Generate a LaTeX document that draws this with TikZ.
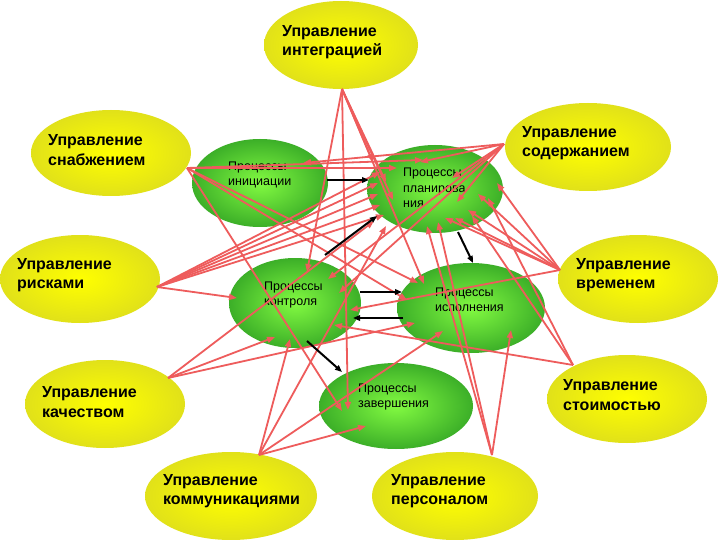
\documentclass[tikz,border=0pt]{standalone}
\usepackage{fontspec}
\setmainfont{Liberation Sans}
\usetikzlibrary{shapes.geometric,arrows.meta,calc}
\definecolor{redline}{RGB}{238,92,92}
\definecolor{yin}{RGB}{255,255,0}
\definecolor{yout}{RGB}{225,225,25}
\definecolor{gin}{RGB}{130,250,65}
\definecolor{gout}{RGB}{60,175,40}
\begin{document}
\begin{tikzpicture}[x=1pt,y=-1pt,
  yel/.style={ellipse, inner sep=0pt, draw=none, inner color=yin, outer color=yout},
  grn/.style={ellipse, inner sep=0pt, draw=none, inner color=gin, outer color=gout},
  ylab/.style={anchor=west, align=left, inner sep=0pt, font=\bfseries\fontsize{16}{19.5}\selectfont},
  glab/.style={anchor=west, align=left, inner sep=0pt, font=\fontsize{12.5}{15.5}\selectfont},
  rl/.style={draw=redline, line width=1.8pt, -{Triangle[length=8pt,width=6pt]}},
  bl/.style={draw=black, line width=2pt, -{Triangle[length=7pt,width=5.5pt]}}]
\useasboundingbox (0,0) rectangle (720,540);
\fill[white] (0,0) rectangle (720,540);

% yellow knowledge areas
\node[yel, minimum width=154pt, minimum height=88pt] (integ) at (341,45) {};
\node[yel, minimum width=160pt, minimum height=86pt] (snab) at (111,153) {};
\node[yel, minimum width=166pt, minimum height=88pt] (sod) at (588,147) {};
\node[yel, minimum width=160pt, minimum height=88pt] (risk) at (80,279) {};
\node[yel, minimum width=160pt, minimum height=88pt] (time) at (638,279) {};
\node[yel, minimum width=160pt, minimum height=88pt] (qual) at (105,404) {};
\node[yel, minimum width=160pt, minimum height=88pt] (cost) at (627,399) {};
\node[yel, minimum width=172pt, minimum height=88pt] (comm) at (231,496) {};
\node[yel, minimum width=166pt, minimum height=88pt] (pers) at (455,496) {};

% green process groups
\node[grn, minimum width=136pt, minimum height=88pt] (init) at (260,183) {};
\node[grn, minimum width=136pt, minimum height=88pt] (plan) at (435,189) {};
\node[grn, minimum width=132pt, minimum height=90pt] (ctrl) at (295,303) {};
\node[grn, minimum width=148pt, minimum height=90pt] (exec) at (471,308) {};
\node[grn, minimum width=154pt, minimum height=86pt] (comp) at (396,406) {};

% labels
\node[ylab] (tinteg) at (282,42) {Управление\\интеграцией};
\node[ylab] (tsnab) at (48,150) {Управление\\снабжением};
\node[ylab] (tsod) at (522,143) {Управление\\содержанием};
\node[ylab] (trisk) at (17,275) {Управление\\рисками};
\node[ylab] (ttime) at (576,275) {Управление\\временем};
\node[ylab] (tqual) at (42,402) {Управление\\качеством};
\node[ylab] (tcost) at (563,395) {Управление\\стоимостью};
\node[ylab] (tcomm) at (163,491) {Управление\\коммуникациями};
\node[ylab] (tpers) at (391,491) {Управление\\персоналом};

\node[glab] (tinit) at (228,175) {Процессы\\инициации};
\node[glab] (tplan) at (403,188) {Процессы\\планирова\\ния};
\node[glab] (tctrl) at (264,295) {Процессы\\контроля};
\node[glab] (texec) at (435,300) {Процессы\\исполнения};
\node[glab] (tcomp) at (358,397) {Процессы\\завершения};

% fan origins on the yellow ellipses
\coordinate (sI) at (342,89);
\coordinate (sS) at (187,168);
\coordinate (sC) at (504,144);
\coordinate (sR) at (157,287);
\coordinate (sT) at (560,270);
\coordinate (sK) at (573,365);
\coordinate (sP) at (492,455);
\coordinate (sQ) at (168,378);
\coordinate (sM) at (259,455);

% red connectors
\foreach \n/\dx/\dy in {ctrl/12/-31, comp/-48/4, plan/-49/-7, plan/-42/11, plan/-62/-27, exec/-47/-24}
  \draw[rl] (sI) -- ($(\n)+(\dx,\dy)$);
\foreach \n/\dx/\dy in {plan/-12/-29, plan/-38/-21, exec/-53/-25, exec/-64/-8, comp/-54/5}
  \draw[rl] (sS) -- ($(\n)+(\dx,\dy)$);
\foreach \n/\dx/\dy in {plan/-15/-27, plan/17/-11, plan/22/13, init/43/-20, ctrl/33/-24, ctrl/44/-10}
  \draw[rl] (sC) -- ($(\n)+(\dx,\dy)$);
\foreach \n/\dx/\dy in {plan/-55/-17, plan/-57/-6, plan/-57/5, plan/-55/16, plan/-51/26, ctrl/-58/-5}
  \draw[rl] (sR) -- ($(\n)+(\dx,\dy)$);
\foreach \n/\dx/\dy in {plan/62/-6, plan/43/5, plan/33/21, plan/20/29, plan/10/29, ctrl/55/7}
  \draw[rl] (sT) -- ($(\n)+(\dx,\dy)$);
\foreach \n/\dx/\dy in {plan/53/9, plan/37/27, ctrl/39/22}
  \draw[rl] (sK) -- ($(\n)+(\dx,\dy)$);
\foreach \n/\dx/\dy in {plan/-8/37, plan/3/33, exec/40/22}
  \draw[rl] (sP) -- ($(\n)+(\dx,\dy)$);
\foreach \n/\dx/\dy in {ctrl/-20/34, exec/-56/15, plan/-61/32}
  \draw[rl] (sQ) -- ($(\n)+(\dx,\dy)$);
\foreach \n/\dx/\dy in {ctrl/-5/36, comp/-30/20, exec/-28/23, plan/-49/37}
  \draw[rl] (sM) -- ($(\n)+(\dx,\dy)$);

% black connectors between process groups
\draw[bl] ($(init)+(67,-3)$) -- ($(plan)+(-66,-9)$);
\draw[bl] ($(ctrl)+(30,-48)$) -- ($(plan)+(-58,27)$);
\draw[bl] ($(plan)+(23,43)$) -- ($(exec)+(2,-45)$);
\draw[bl] ($(ctrl)+(65,-11)$) -- ($(exec)+(-69,-16)$);
\draw[bl] ($(exec)+(-68,10)$) -- ($(ctrl)+(58,15)$);
\draw[bl] ($(ctrl)+(12,38)$) -- ($(comp)+(-54,-34)$);
\end{tikzpicture}
\end{document}
